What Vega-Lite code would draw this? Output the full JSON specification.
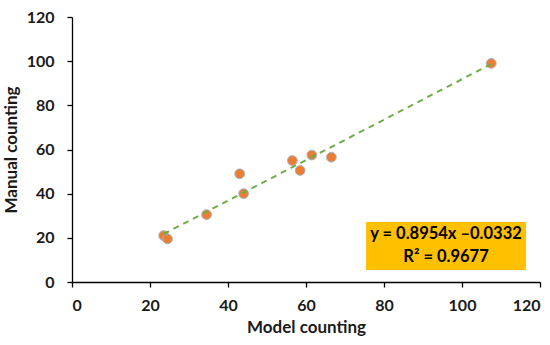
{
  "$schema": "https://vega.github.io/schema/vega-lite/v6.json",
  "width": 468,
  "height": 265,
  "autosize": "none",
  "padding": {"left": 72, "top": 17, "right": 10, "bottom": 63},
  "background": "white",
  "config": {
    "view": {"stroke": null},
    "font": "Lato",
    "axis": {
      "grid": false,
      "domainColor": "black",
      "domainWidth": 1.3,
      "tickColor": "black",
      "tickWidth": 1.3,
      "tickSize": 5,
      "labelFont": "Lato",
      "labelFontWeight": "bold",
      "labelFontSize": 16,
      "labelColor": "#1a1a1a",
      "titleFont": "Lato",
      "titleFontWeight": "bold",
      "titleFontSize": 17,
      "titleColor": "#1a1a1a"
    }
  },
  "layer": [
    {
      "data": {"values": [{"x1": 75.4, "x2": 116.4, "y1": 27.2, "y2": 5.4}]},
      "mark": {"type": "rect", "color": "#FFC000"},
      "encoding": {
        "x": {"field": "x1", "type": "quantitative"},
        "x2": {"field": "x2"},
        "y": {"field": "y1", "type": "quantitative"},
        "y2": {"field": "y2"}
      }
    },
    {
      "data": {"values": [
        {"model": 23.5, "manual": 21},
        {"model": 24.5, "manual": 19.5},
        {"model": 34.5, "manual": 30.5},
        {"model": 43, "manual": 49},
        {"model": 44, "manual": 40},
        {"model": 56.5, "manual": 55},
        {"model": 58.5, "manual": 50.5},
        {"model": 61.5, "manual": 57.5},
        {"model": 66.5, "manual": 56.5},
        {"model": 107.5, "manual": 99}
      ]},
      "layer": [
        {
          "mark": {"type": "point", "filled": true, "color": "#ED7D31", "stroke": "#A5B3C8", "strokeWidth": 1, "size": 95, "opacity": 1},
          "encoding": {
            "x": {"field": "model", "type": "quantitative", "scale": {"domain": [0, 120]}, "axis": {"title": "Model counting", "values": [0, 20, 40, 60, 80, 100, 120], "labelPadding": 10, "titlePadding": 6}},
            "y": {"field": "manual", "type": "quantitative", "scale": {"domain": [0, 120]}, "axis": {"title": "Manual counting", "values": [0, 20, 40, 60, 80, 100, 120], "labelPadding": 13, "titlePadding": 6}}
          }
        },
        {
          "transform": [{"regression": "manual", "on": "model"}],
          "mark": {"type": "line", "color": "#70AD47", "strokeWidth": 2, "strokeDash": [6, 5]},
          "encoding": {
            "x": {"field": "model", "type": "quantitative"},
            "y": {"field": "manual", "type": "quantitative"}
          }
        }
      ]
    },
    {
      "data": {"values": [
        {"tx": 95.9, "ty": 21.8, "label": "y = 0.8954x \u20130.0332"},
        {"tx": 95.9, "ty": 11.3, "label": "R\u00b2 = 0.9677"}
      ]},
      "mark": {"type": "text", "font": "Lato", "fontWeight": "bold", "fontSize": 16.5, "color": "black", "align": "center", "baseline": "middle"},
      "encoding": {
        "x": {"field": "tx", "type": "quantitative"},
        "y": {"field": "ty", "type": "quantitative"},
        "text": {"field": "label"}
      }
    }
  ]
}
